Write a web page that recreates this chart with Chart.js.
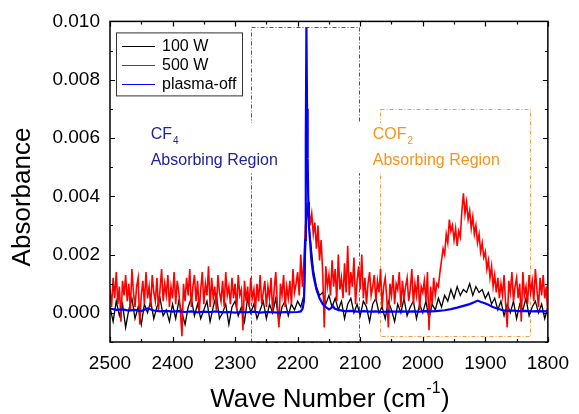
<!DOCTYPE html>
<html><head><meta charset="utf-8">
<script src="https://cdn.jsdelivr.net/npm/chart.js@4.4.1/dist/chart.umd.min.js"></script>
<style>html,body{margin:0;padding:0;background:#fff;}#wrap{width:579px;height:414px;}</style>
</head><body><div id="wrap"><canvas id="c" width="579" height="414"></canvas></div>
<script>
// ---------- data ----------
const seriesNames = ['100 W', '500 W', 'plasma-off'];
const xTickValues = [2500, 2400, 2300, 2200, 2100, 2000, 1900, 1800];
const xMinorTickValues = [2450, 2350, 2250, 2150, 2050, 1950, 1850];
const yTickValues = [0.000, 0.002, 0.004, 0.006, 0.008, 0.010];
const yMinorTickValues = [-0.001, 0.001, 0.003, 0.005, 0.007, 0.009];

// 500 W spectrum: wavenumbers from 2500 down in 2.5 cm-1 steps, absorbance in units of 1e-4
const red500Start = 2500, red500Step = 2.5;
const red500 = [
8,2,12,5,14,3,9,-3,11,6,
13,4,10,1,15,7,2,9,12,-4,
6,11,3,14,5,9,2,13,7,4,
12,1,8,15,4,10,6,13,2,9,
5,14,3,11,7,1,-8,10,4,12,
6,15,2,9,13,4,11,0,8,14,
3,10,6,16,2,12,5,9,1,13,
7,4,11,2,14,6,9,3,12,5,
10,1,13,6,8,-6,11,4,9,2,
12,5,8,1,10,4,13,3,7,11,
2,9,5,12,0,8,14,3,-5,10,
6,13,2,9,5,11,3,15,7,10,
14,6,20,9,18,30,37,38,30,34,
27,31,22,30,18,25,14,-5,16,9,
13,6,18,9,15,4,20,8,12,5,
17,7,23,6,14,9,19,3,11,16,
8,20,5,12,3,10,14,6,9,13,
4,11,7,15,2,9,12,5,-5,10,
6,13,3,10,8,14,2,11,5,9,
12,4,8,15,3,10,6,13,1,9,
7,11,4,14,-6,9,3,12,6,10,
9,14,18,22,20,27,24,32,28,30,
25,29,23,28,26,35,41,34,38,32,
35,29,33,27,30,24,27,21,24,19,
21,15,18,12,16,9,13,7,12,5,
10,6,13,3,-5,11,7,14,4,9,
12,5,10,-3,14,6,9,3,13,7,
11,4,15,8,2,12,6,13,5,9,-2
];

// 100 W spectrum: wavenumbers from 2500 down in 5 cm-1 steps, absorbance in units of 1e-4
const black100Start = 2500, black100Step = 5;
const black100 = [
2,-3,4,-1,3,-5,1,5,-2,2,
-4,3,0,4,-2,2,5,-1,1,-3,
3,-2,4,0,-4,2,5,-1,3,-2,
1,4,-3,2,6,-2,0,3,-4,2,
4,-1,2,-3,5,0,3,-2,1,4,
-2,3,0,5,-3,2,4,-1,3,1,
4,2,6,37,26,15,9,6,7,3,
6,2,5,1,4,-2,3,5,0,3,
-1,4,2,-3,3,5,0,2,-2,4,
1,-3,3,0,5,-1,2,4,-2,3,
0,4,-2,3,1,5,2,6,4,8,
5,9,6,8,7,10,6,9,7,8,
5,7,3,5,1,4,-1,3,0,4,
-2,3,1,5,-1,2,4,0,3,-2,2
];

// plasma-off spectrum: wavenumbers and absorbance in units of 1e-4
const plasmaOffX = [2500,2490,2480,2470,2460,2450,2440,2430,2420,2410,2400,2390,2380,2370,2360,2350,2340,2330,2320,2310,2300,2290,2280,2270,2260,2250,2240,2230,2220,2210,2200,2195,2192,2190,2189,2188,2187,2186,2185,2184,2183,2182,2180,2178,2175,2172,2170,2165,2160,2155,2150,2147,2144,2141,2135,2125,2115,2105,2095,2085,2075,2065,2055,2045,2035,2025,2015,2005,1995,1985,1975,1965,1955,1945,1935,1925,1918,1912,1908,1902,1895,1888,1880,1872,1865,1855,1845,1835,1825,1815,1805,1800];
const plasmaOffY = [1.5,1,1.2,0.8,1,0.6,1.5,0.8,0.5,0.7,0.4,0.6,0.3,0.5,0.2,0.4,0.3,0.5,0.2,0.3,0.1,0.3,0.2,0.4,0.1,0.3,0.2,0.1,0.3,0.2,0.3,0.5,1.5,4,10,25,60,98,70,53,38,30,24,18,13,10,8,5,3,2,1.2,1.5,2.5,1.5,1,0.6,0.7,0.4,0.6,0.4,0.5,0.3,0.5,0.4,0.5,0.4,0.5,0.4,0.6,0.5,0.7,0.9,1.3,1.8,2.4,3,3.6,4.2,3.8,3.4,2.8,2,1.4,0.9,0.7,0.8,0.6,0.7,0.5,0.6,0.5,0.6];

// annotated regions: [x from, x to, y bottom, y top] in data units
const cf4Region = [2275, 2102, -0.001, 0.0098];
const cof2Region = [2068, 1828, -0.0008, 0.0070];
const cf4LabelAt = [2435, 0.0061];
const cof2LabelAt = [2080, 0.0061];

// ---------- build ----------
const SCALE = 1e-4;
const toPts = (start, step, arr) => arr.map((v, i) => ({x: start - i * step, y: v * SCALE}));
const FONT = '"Liberation Sans", Arial, Helvetica, sans-serif';
Chart.defaults.font.family = FONT;

const seriesColors = ['#000000', '#ff0000', '#0000ff'];

function region(ctx, x, y, r, color, dash) {
  const x0 = x.getPixelForValue(r[0]), x1 = x.getPixelForValue(r[1]);
  const yb = y.getPixelForValue(r[2]), yt = y.getPixelForValue(r[3]);
  ctx.save();
  ctx.strokeStyle = color; ctx.lineWidth = 1; ctx.setLineDash(dash);
  ctx.strokeRect(Math.round(x0) + 0.5, Math.round(yt) + 0.5, Math.round(x1 - x0), Math.round(yb - yt));
  ctx.restore();
}
function label(ctx, x, y, at, main, sub, color, boxW) {
  const px = x.getPixelForValue(at[0]), py = y.getPixelForValue(at[1]);
  ctx.save();
  ctx.fillStyle = '#ffffff';
  ctx.fillRect(px - 4, py - 12, boxW, 50);
  ctx.fillStyle = color;
  ctx.textBaseline = 'middle'; ctx.textAlign = 'left';
  ctx.font = '16px ' + FONT;
  ctx.fillText(main, px, py);
  const w = ctx.measureText(main).width;
  ctx.font = '10px ' + FONT;
  ctx.fillText(sub, px + w + 1, py + 6);
  ctx.font = '16px ' + FONT;
  ctx.fillText('Absorbing Region', px, py + 26);
  ctx.restore();
}

const decor = {
  id: 'decor',
  beforeDatasetsDraw(chart) {
    const {ctx, scales: {x, y}} = chart;
    region(ctx, x, y, cf4Region, '#4848b4', [4, 2, 1, 2]);
    region(ctx, x, y, cof2Region, '#f39a45', [4, 2, 1, 2]);
    label(ctx, x, y, cf4LabelAt, 'CF', '4', '#22229a', 218);
    label(ctx, x, y, cof2LabelAt, 'COF', '2', '#f7941d', 140);
  },
  afterDatasetsDraw(chart) {
    const {ctx, chartArea: a, scales: {x, y}} = chart;
    ctx.save();
    ctx.strokeStyle = '#000'; ctx.lineWidth = 1.5;
    ctx.strokeRect(a.left, a.top, a.right - a.left, a.bottom - a.top);
    ctx.lineWidth = 1.2;
    const tick = (vals, len) => {
      vals.forEach(v => {
        const px = Math.round(x.getPixelForValue(v)) + 0.5;
        ctx.beginPath();
        ctx.moveTo(px, a.bottom); ctx.lineTo(px, a.bottom - len);
        ctx.moveTo(px, a.top); ctx.lineTo(px, a.top + len);
        ctx.stroke();
      });
    };
    const ytick = (vals, len) => {
      vals.forEach(v => {
        const py = Math.round(y.getPixelForValue(v)) + 0.5;
        ctx.beginPath();
        ctx.moveTo(a.left, py); ctx.lineTo(a.left + len, py);
        ctx.moveTo(a.right, py); ctx.lineTo(a.right - len, py);
        ctx.stroke();
      });
    };
    tick(xTickValues, 5); tick(xMinorTickValues, 3);
    ytick(yTickValues, 5); ytick(yMinorTickValues, 3);

    // legend
    const lx = a.left + 6, ly = a.top + 11;
    ctx.lineWidth = 1; ctx.strokeStyle = '#333';
    ctx.strokeRect(lx + 0.5, ly + 0.5, 126, 63);
    ctx.font = '16px ' + FONT; ctx.textBaseline = 'middle'; ctx.textAlign = 'left';
    seriesNames.forEach((n, i) => {
      const ry = ly + 13.5 + i * 19;
      ctx.strokeStyle = seriesColors[i]; ctx.lineWidth = 1;
      ctx.beginPath(); ctx.moveTo(lx + 6, Math.round(ry) + 0.5); ctx.lineTo(lx + 39, Math.round(ry) + 0.5); ctx.stroke();
      ctx.fillStyle = '#000';
      ctx.fillText(n, lx + 46, ry + 1);
    });

    // axis titles
    ctx.fillStyle = '#000';
    ctx.save();
    ctx.translate(23, 197);
    ctx.rotate(-Math.PI / 2);
    ctx.textAlign = 'center'; ctx.textBaseline = 'middle';
    ctx.font = '26px ' + FONT;
    ctx.fillText('Absorbance', 0, 0);
    ctx.restore();

    ctx.font = '26px ' + FONT; ctx.textBaseline = 'middle'; ctx.textAlign = 'left';
    const t1 = 'Wave Number (cm', t3 = ')';
    ctx.font = '16px ' + FONT; const w2 = ctx.measureText('-1').width;
    ctx.font = '26px ' + FONT;
    const w1 = ctx.measureText(t1).width, w3 = ctx.measureText(t3).width;
    const tot = w1 + w2 + w3 + 1;
    const cx = (a.left + a.right) / 2 + 1;
    let sx = cx - tot / 2, ty = 400;
    ctx.fillText(t1, sx, ty);
    ctx.font = '16px ' + FONT; ctx.fillText('-1', sx + w1 + 0.5, ty - 11);
    ctx.font = '26px ' + FONT; ctx.fillText(t3, sx + w1 + w2 + 1, ty);
    ctx.restore();
  }
};

new Chart(document.getElementById('c'), {
  type: 'line',
  data: {
    datasets: [
      {label: seriesNames[2], data: plasmaOffX.map((v, i) => ({x: v, y: plasmaOffY[i] * SCALE})), borderColor: seriesColors[2], borderWidth: 2.2, order: 0},
      {label: seriesNames[1], data: toPts(red500Start, red500Step, red500), borderColor: seriesColors[1], borderWidth: 1.6, order: 1},
      {label: seriesNames[0], data: toPts(black100Start, black100Step, black100), borderColor: seriesColors[0], borderWidth: 1.3, order: 2}
    ]
  },
  options: {
    responsive: false, animation: false, devicePixelRatio: 1,
    elements: {point: {radius: 0}, line: {tension: 0}},
    layout: {padding: {left: 0, right: 30, top: 18, bottom: 0}},
    plugins: {legend: {display: false}, tooltip: {enabled: false}},
    scales: {
      x: {
        type: 'linear', reverse: true, min: 1800, max: 2500,
        afterBuildTicks: s => { s.ticks = xTickValues.map(v => ({value: v})); },
        afterFit: s => { s.height = 72; },
        grid: {display: false, drawTicks: false}, border: {display: false},
        ticks: {color: '#000', font: {size: 19}, padding: 10, maxRotation: 0, autoSkip: false, callback: v => String(v)}
      },
      y: {
        type: 'linear', min: -0.001, max: 0.010,
        afterBuildTicks: s => { s.ticks = yTickValues.map(v => ({value: v})); },
        afterFit: s => { s.width = 110; },
        grid: {display: false, drawTicks: false}, border: {display: false},
        ticks: {color: '#000', font: {size: 19}, padding: 10, autoSkip: false, callback: v => v.toFixed(3)}
      }
    }
  },
  plugins: [decor]
});
</script>
</body></html>
